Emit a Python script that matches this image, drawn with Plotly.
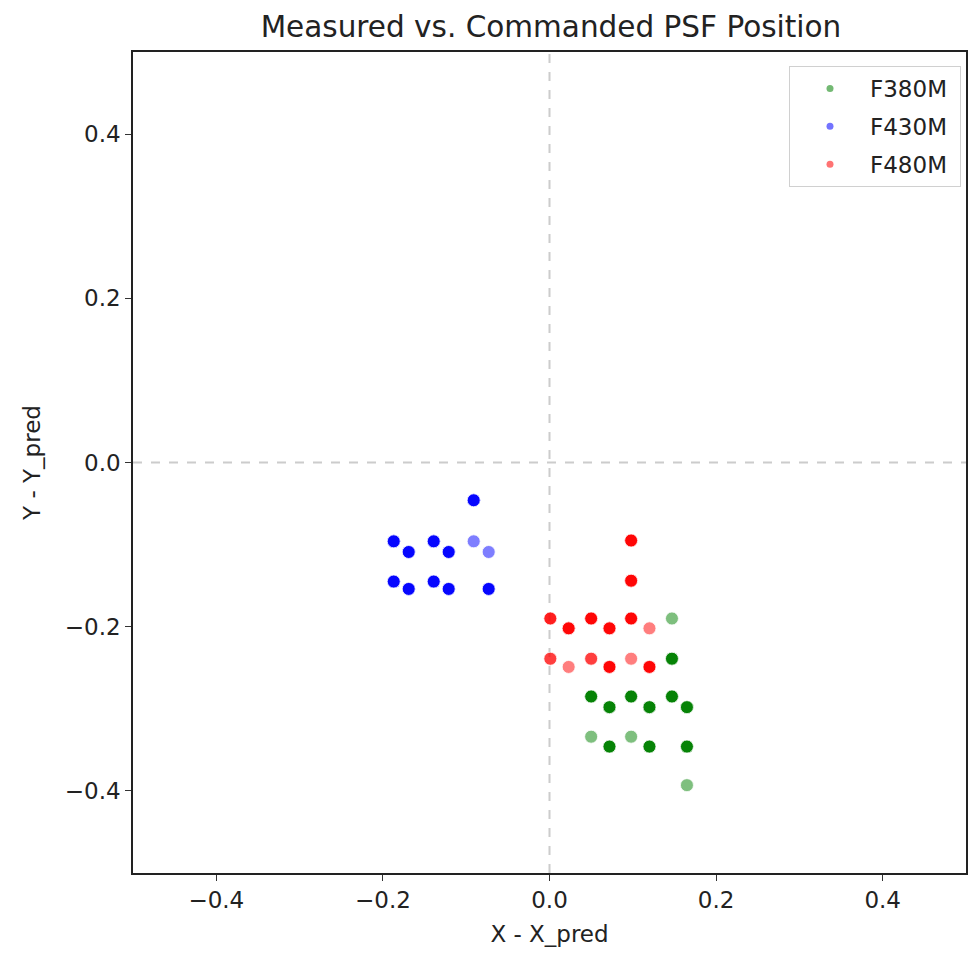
import plotly.graph_objects as go

# Data (n = number of overlapping measurements at the same offset)
f380_x = [0.147, 0.147, 0.050, 0.072, 0.098, 0.120, 0.147, 0.165, 0.050, 0.072, 0.098, 0.120, 0.165, 0.165]
f380_y = [-0.190, -0.239, -0.285, -0.298, -0.285, -0.298, -0.285, -0.298, -0.334, -0.346, -0.334, -0.346, -0.346, -0.393]
f380_n = [1, 5, 5, 5, 5, 5, 5, 5, 1, 5, 1, 5, 5, 1]

f430_x = [-0.091, -0.187, -0.169, -0.139, -0.121, -0.091, -0.073, -0.187, -0.169, -0.139, -0.121, -0.073]
f430_y = [-0.046, -0.096, -0.109, -0.096, -0.109, -0.096, -0.109, -0.145, -0.154, -0.145, -0.154, -0.154]
f430_n = [5, 5, 5, 5, 5, 1, 1, 5, 5, 5, 5, 5]

f480_x = [0.098, 0.098, 0.001, 0.023, 0.050, 0.072, 0.098, 0.120, 0.001, 0.023, 0.050, 0.072, 0.098, 0.120]
f480_y = [-0.095, -0.144, -0.190, -0.202, -0.190, -0.202, -0.190, -0.202, -0.239, -0.249, -0.239, -0.249, -0.239, -0.249]
f480_n = [5, 5, 3, 5, 5, 5, 5, 1, 2, 1, 2, 5, 1, 5]

series = [
    ("F380M", f380_x, f380_y, f380_n, "#008000"),
    ("F430M", f430_x, f430_y, f430_n, "#0000ff"),
    ("F480M", f480_x, f480_y, f480_n, "#ff0000"),
]

FONT = "DejaVu Sans"
fig = go.Figure()

for name, xs, ys, ns, col in series:
    ex, ey = [], []
    for x, y, n in zip(xs, ys, ns):
        ex += [x] * n
        ey += [y] * n
    fig.add_trace(go.Scatter(
        x=ex, y=ey, mode="markers", name=name, showlegend=False,
        marker=dict(size=13, color=col, opacity=0.5, line=dict(color="white", width=0.8)),
    ))

for i, (name, xs, ys, ns, col) in enumerate(series):
    fig.add_trace(go.Scatter(
        x=[None], y=[None], mode="markers", name=name + "\u00a0", showlegend=True,
        legendgroup="g%d" % i,
        marker=dict(size=7, color=col, opacity=0.55),
    ))

# reference dashed lines
fig.add_shape(type="line", xref="x", yref="paper", x0=0, x1=0, y0=0, y1=1,
              line=dict(color="#cccccc", width=2, dash="dash"), layer="below")
fig.add_shape(type="line", xref="paper", yref="y", x0=0, x1=1, y0=0, y1=0,
              line=dict(color="#cccccc", width=2, dash="dash"), layer="below")

axis_common = dict(
    range=[-0.5, 0.5], showgrid=False, zeroline=False,
    showline=True, linecolor="#222", linewidth=1.5, mirror=True,
    ticks="outside", ticklen=6, tickwidth=1.2, tickcolor="#333",
    tickvals=[-0.4, -0.2, 0.0, 0.2, 0.4],
    ticktext=["\u22120.4", "\u22120.2", "0.0", "0.2", "0.4"],
    tickfont=dict(family=FONT, size=23, color="#222"),
)

fig.update_layout(
    width=970, height=955,
    margin=dict(l=133, r=2, t=52, b=82),
    paper_bgcolor="white", plot_bgcolor="white",
    title=dict(text="Measured vs. Commanded PSF Position", x=0.568, xanchor="center",
               y=0.972, yanchor="middle", font=dict(family=FONT, size=29.5, color="#222")),
    xaxis=dict(**axis_common, title=dict(text="X - X_pred", font=dict(family=FONT, size=23, color="#222"), standoff=14)),
    yaxis=dict(**axis_common, title=dict(text="Y - Y_pred", font=dict(family=FONT, size=23, color="#222"), standoff=18)),
    legend=dict(x=0.994, y=0.983, xanchor="right", yanchor="top",
                bordercolor="#d0d0d0", borderwidth=1, bgcolor="white",
                font=dict(family=FONT, size=23, color="#222"),
                itemsizing="trace", tracegroupgap=5, itemwidth=70),
)

fig.write_html("out.html")
